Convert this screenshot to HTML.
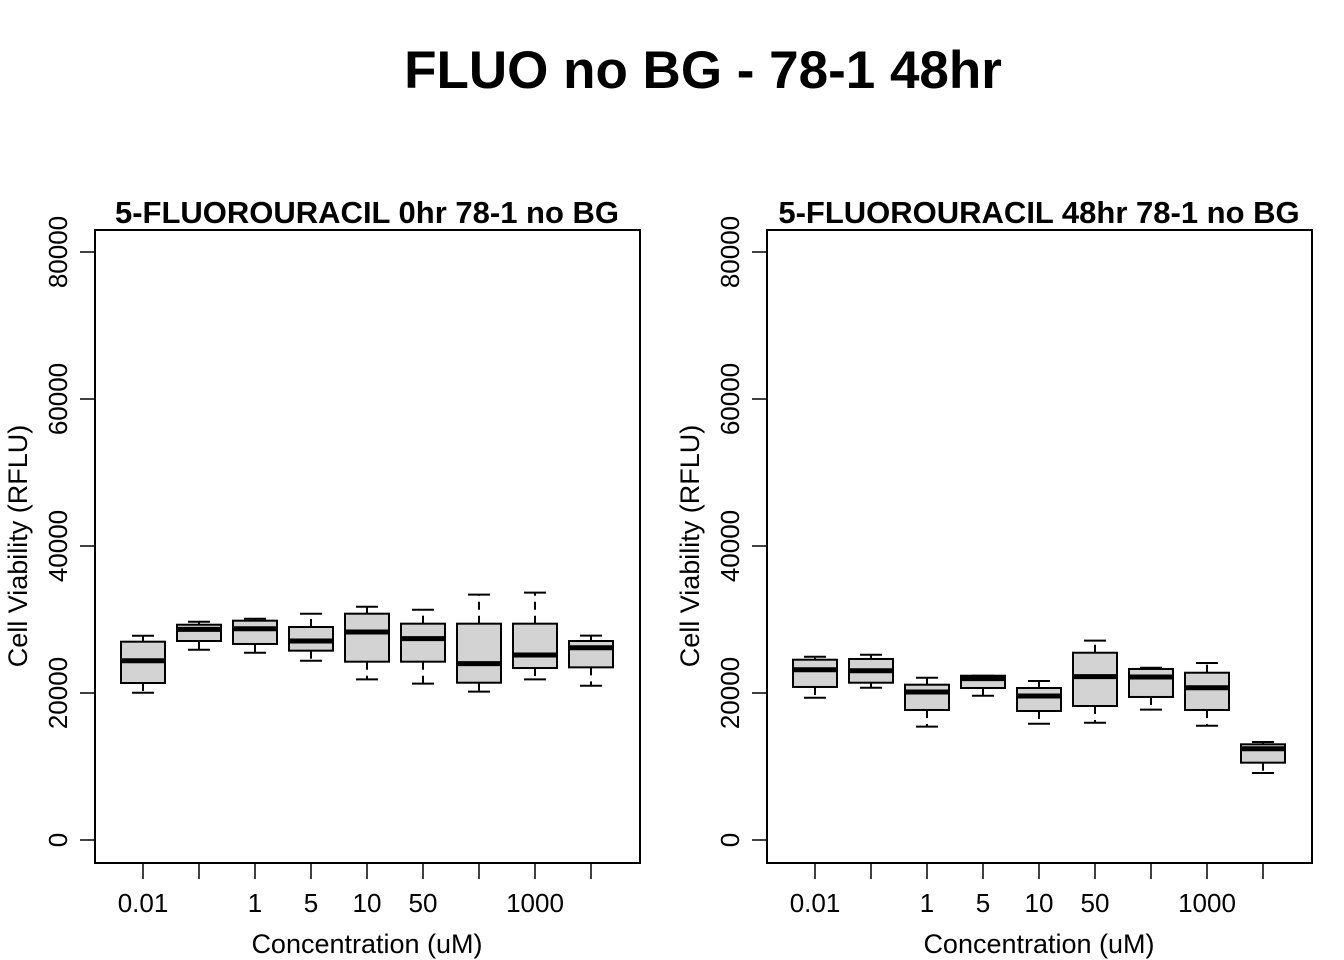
<!DOCTYPE html>
<html><head><meta charset="utf-8"><style>
html,body{margin:0;padding:0;background:#fff;}
svg{display:block;font-family:"Liberation Sans",Arial,sans-serif;}
</style></head><body>
<svg id="chart" width="1344" height="960" viewBox="0 0 1344 960" xmlns="http://www.w3.org/2000/svg">
<text x="703" y="88" text-anchor="middle" font-size="53" font-weight="bold">FLUO no BG - 78-1 48hr</text>
</svg>
<script>
const categories = ["0.01","","1","5","10","50","","1000",""];
const yTicks = [0,20000,40000,60000,80000];
const panelTitles = ["5-FLUOROURACIL 0hr 78-1 no BG","5-FLUOROURACIL 48hr 78-1 no BG"];
// [whiskerLow, q1, median, q3, whiskerHigh]
const leftBoxes = [
 [20040,21360,24395,26980,27796],
 [25890,27075,28660,29290,29700],
 [25480,26670,28750,29840,30110],
 [24395,25760,27075,28980,30790],
 [21860,24260,28300,30790,31740],
 [21270,24260,27390,29430,31330],
 [20180,21400,23990,29430,33380],
 [21860,23400,25170,29430,33650],
 [20990,23490,26160,27075,27800]
];
const rightBoxes = [
 [19360,20820,23170,24530,24940],
 [20720,21400,23030,24630,25210],
 [15420,17690,20140,21130,22080],
 [19630,20680,21950,22350,22350],
 [15820,17550,19590,20680,21630],
 [15960,18230,22220,25480,27120],
 [17730,19460,22180,23270,23440],
 [15550,17690,20720,22760,24080],
 [9120,10520,12420,13020,13330]
];
const svg=document.getElementById('chart');
const NS="http://www.w3.org/2000/svg";
function mk(tag,attrs,parent){const e=document.createElementNS(NS,tag);for(const k in attrs)e.setAttribute(k,attrs[k]);(parent||svg).appendChild(e);return e;}
const yScale=v=>840-v*588/80000;
function drawPanel(px,title,boxes,key){
  const g=mk('g',{});
  
  
  const xScale=i=>px+48+i*56;
  const frame=mk('rect',{x:px,y:230,width:545,height:633,fill:'none',stroke:'#000','stroke-width':2},g);
  
  
  const t=mk('text',{x:px+272,y:223,'text-anchor':'middle','font-size':31,'font-weight':'bold'},g);
  t.textContent=title;
  
  
  yTicks.forEach(v=>{
    const y=yScale(v);
    mk('line',{x1:px,x2:px-15,y1:y,y2:y,stroke:'#000','stroke-width':1.5},g);
    const tl=mk('text',{x:px-28,y:y,'text-anchor':'middle','font-size':26,transform:`rotate(-90 ${px-28} ${y})`},g);
    tl.textContent=v;
    
    
  });
  const yl=mk('text',{x:px-68,y:546,'text-anchor':'middle','font-size':27,transform:`rotate(-90 ${px-68} 546)`},g);
  yl.textContent='Cell Viability (RFLU)';
  
  
  categories.forEach((c,i)=>{
    const x=xScale(i);
    mk('line',{x1:x,x2:x,y1:863,y2:879,stroke:'#000','stroke-width':1.5},g);
    if(c){const tl=mk('text',{x:x,y:912,'text-anchor':'middle','font-size':26},g);tl.textContent=c;
      
      }
  });
  const xl=mk('text',{x:px+272,y:953,'text-anchor':'middle','font-size':27},g);
  xl.textContent='Concentration (uM)';
  
  
  boxes.forEach((b,i)=>{
    const x=xScale(i);
    const bg=mk('g',{},g);
    
    
    const [wl,q1,md,q3,wh]=b;
    mk('line',{x1:x,x2:x,y1:yScale(q3),y2:yScale(wh),stroke:'#000','stroke-width':2,'stroke-dasharray':'8,6'},bg);
    mk('line',{x1:x,x2:x,y1:yScale(q1),y2:yScale(wl),stroke:'#000','stroke-width':2,'stroke-dasharray':'8,6'},bg);
    mk('line',{x1:x-11,x2:x+11,y1:yScale(wh),y2:yScale(wh),stroke:'#000','stroke-width':2},bg);
    mk('line',{x1:x-11,x2:x+11,y1:yScale(wl),y2:yScale(wl),stroke:'#000','stroke-width':2},bg);
    mk('rect',{x:x-22,y:yScale(q3),width:44,height:yScale(q1)-yScale(q3),fill:'#d3d3d3',stroke:'#000','stroke-width':2},bg);
    mk('line',{x1:x-22,x2:x+22,y1:yScale(md),y2:yScale(md),stroke:'#000','stroke-width':5},bg);
  });
}
drawPanel(95,panelTitles[0],leftBoxes,'left');
drawPanel(767,panelTitles[1],rightBoxes,'right');
</script>
</body></html>
